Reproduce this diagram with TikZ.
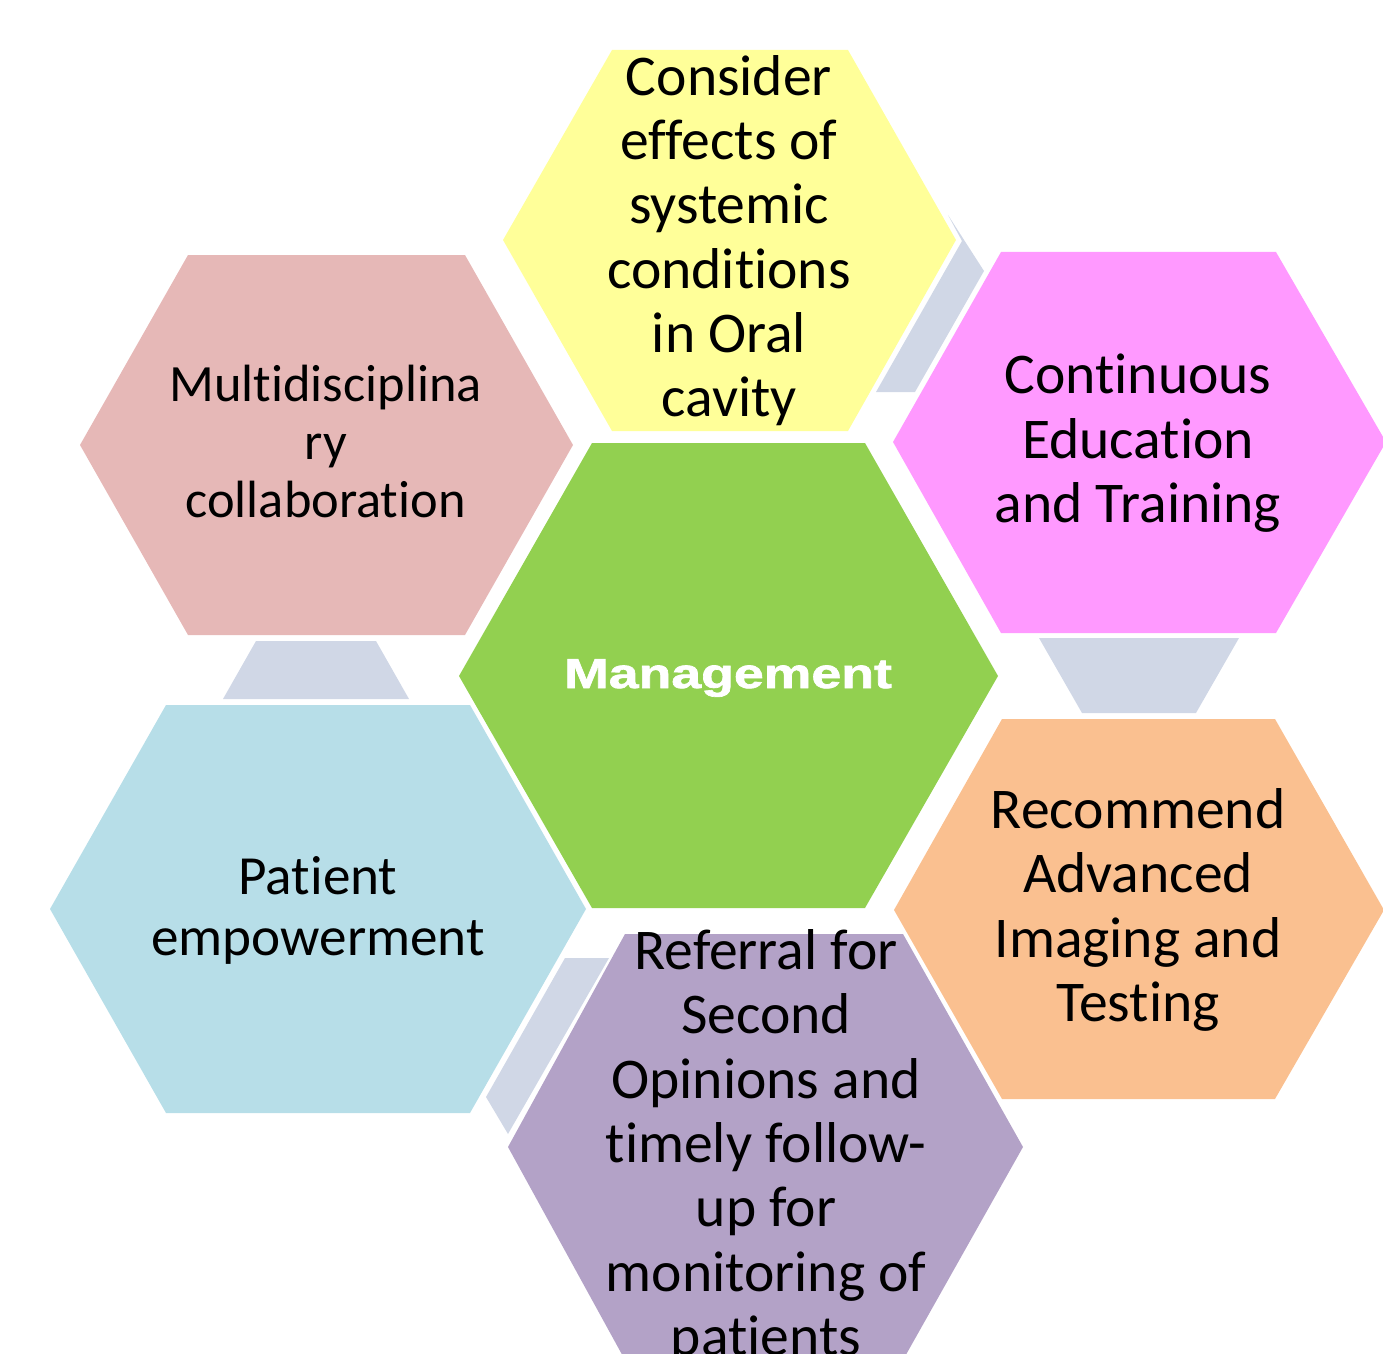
\documentclass[tikz,border=0pt]{standalone}
\usepackage{fontspec}
\setmainfont{Carlito}[Ligatures=NoCommon]
\newfontfamily\mgmtfont{Liberation Sans}[FakeStretch=1.28,FakeBold=1.6]

\definecolor{hexYellow}{HTML}{FFFF99}
\definecolor{hexPink}{HTML}{FF99FF}
\definecolor{hexRose}{HTML}{E6B8B7}
\definecolor{hexBlue}{HTML}{B7DEE8}
\definecolor{hexOrange}{HTML}{FAC090}
\definecolor{hexPurple}{HTML}{B3A2C7}
\definecolor{hexGreen}{HTML}{92D050}
\definecolor{linkGrey}{HTML}{D0D7E6}

% struts so that a label's centre lies midway between its first and last baselines
\newcommand\hxtop{\rule{0pt}{0.75em}}
\newcommand\hxbot{\rule[-0.75em]{0pt}{0.75em}}

\tikzset{
  linkshape/.style={fill=linkGrey},
  hexshape/.style={fill=#1},
  lbl/.style={inner sep=0pt, align=center, text=black,
    font=\fontsize{28.8pt}{32.15pt}\selectfont},
  lblsmall/.style={lbl, font=\fontsize{26.2pt}{29.15pt}\selectfont},
  lblmid/.style={lbl, font=\fontsize{27.6pt}{30.85pt}\selectfont},
  hublbl/.style={inner sep=0pt, anchor=base, text=white,
    font=\mgmtfont\bfseries\fontsize{20.95pt}{24pt}\selectfont}
}

\begin{document}
\begin{tikzpicture}[x=0.5pt, y=-0.5pt]
\useasboundingbox (0,0) rectangle (1383,1354);
\clip (0,0) rectangle (1383,1354);

% small linking pieces between neighbouring hexagons
\fill[linkshape] (948,215) -- (984,271) -- (915,392) -- (876,392) -- (962,241) -- cycle;
\fill[linkshape] (1039,638) -- (1239,638) -- (1196,713) -- (1082,713) -- cycle;
\fill[linkshape] (565,958) -- (609,958) -- (508,1134) -- (486,1097) -- cycle;
\fill[linkshape] (256,641) -- (376,641) -- (409,699) -- (223,699) -- cycle;

% outer hexagons
\fill[hexshape=hexYellow] (503,240) -- (612,50) -- (848,50) -- (956,240) -- (848,431) -- (612,431) -- cycle;
\fill[hexshape=hexPink]   (893,442) -- (1001,252) -- (1276,252) -- (1386,442) -- (1276,633) -- (1001,633) -- cycle;
\fill[hexshape=hexRose]   (80,445) -- (188,255) -- (465,255) -- (573,445) -- (465,635) -- (188,635) -- cycle;
\fill[hexshape=hexBlue]   (50,909) -- (166,705) -- (470,705) -- (586,909) -- (470,1113) -- (166,1113) -- cycle;
\fill[hexshape=hexOrange] (894,910) -- (1002,719) -- (1275,719) -- (1384,910) -- (1275,1099) -- (1002,1099) -- cycle;
\fill[hexshape=hexPurple] (508,1147) -- (625,934) -- (903,934) -- (1023,1147) -- (903,1360) -- (625,1360) -- cycle;

% central hexagon
\fill[hexshape=hexGreen] (459,676) -- (592,443) -- (865,443) -- (998,676) -- (865,908) -- (592,908) -- cycle;

% labels
\node[hublbl] (hub) at (728,688) {Management};
\node[lbl] (sys) at (729,255.9)
  {\hxtop Consider\\effects of\\systemic\\conditions\\in Oral\\cavity\hxbot};
\node[lbl] (edu) at (1138,458)
  {\hxtop Continuous\\Education\\and Training\hxbot};
\node[lbl] (img) at (1138,925)
  {\hxtop Recommend\\Advanced\\Imaging and\\Testing\hxbot};
\node[lbl] (ref) at (766,1162.5)
  {\hxtop Referral for\\Second\\Opinions and\\timely follow-\\up for\\monitoring of\\patients\hxbot};
\node[lblmid] (pat) at (318,924.9)
  {\hxtop Patient\\empowerment\hxbot};
\node[lblsmall] (mdc) at (325.7,459.3)
  {\hxtop Multidisciplina\\ry\\collaboration\hxbot};
\end{tikzpicture}
\end{document}
